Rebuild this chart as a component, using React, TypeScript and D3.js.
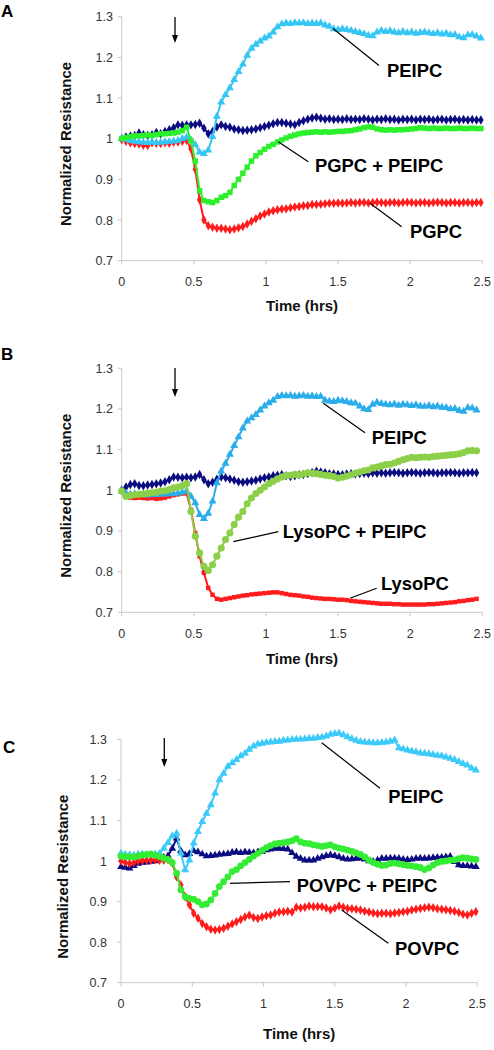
import React from "react";
import * as d3 from "d3";

// ---------- DATA ----------
const TIME_HRS = [
  0, 0.03, 0.06, 0.09, 0.12, 0.15, 0.18, 0.21, 0.24, 0.27, 0.3, 0.33, 0.36, 0.39, 0.42, 0.45, 0.48, 0.51, 0.54, 0.57,
  0.6, 0.63, 0.66, 0.69, 0.72, 0.75, 0.78, 0.81, 0.84, 0.87, 0.9, 0.93, 0.96, 0.99, 1.02, 1.05, 1.08, 1.11, 1.14, 1.17,
  1.2, 1.23, 1.26, 1.29, 1.32, 1.35, 1.38, 1.41, 1.44, 1.47, 1.5, 1.53, 1.56, 1.59, 1.62, 1.65, 1.68, 1.71, 1.74, 1.77,
  1.8, 1.83, 1.86, 1.89, 1.92, 1.95, 1.98, 2.01, 2.04, 2.07, 2.1, 2.13, 2.16, 2.19, 2.22, 2.25, 2.28, 2.31, 2.34, 2.37,
  2.4, 2.43, 2.46, 2.49,
];

const X_TICKS = [0, 0.5, 1, 1.5, 2, 2.5];
const X_TICK_LABELS = ["0", "0.5", "1", "1.5", "2", "2.5"];
const Y_TICKS = [0.7, 0.8, 0.9, 1.0, 1.1, 1.2, 1.3];
const Y_TICK_LABELS = ["0.7", "0.8", "0.9", "1", "1.1", "1.2", "1.3"];

// Panel A
const A_CONTROL = [
  1.0, 1.004, 1.006, 1.008, 1.014, 1.01, 1.008, 1.01, 1.015, 1.012,
  1.018, 1.022, 1.027, 1.034, 1.033, 1.034, 1.034, 1.035, 1.038, 1.026,
  1.012, 1.018, 1.029, 1.034, 1.03, 1.028, 1.024, 1.022, 1.02, 1.021,
  1.022, 1.024, 1.027, 1.03, 1.033, 1.037, 1.04, 1.04, 1.038, 1.036,
  1.034, 1.04, 1.044, 1.048, 1.051, 1.053, 1.05, 1.048, 1.049, 1.047,
  1.048, 1.047, 1.049, 1.047, 1.048, 1.047, 1.049, 1.048, 1.046, 1.048,
  1.047, 1.049, 1.047, 1.048, 1.046, 1.048, 1.047, 1.048, 1.046, 1.048,
  1.047, 1.048, 1.046, 1.047, 1.048, 1.046, 1.047, 1.048, 1.046, 1.047,
  1.046, 1.047, 1.046, 1.046,
];
const A_PEIPC = [
  1.0, 0.998, 0.995, 0.993, 0.992, 0.991, 0.99, 0.992, 0.99, 0.991,
  0.992, 0.993, 0.994, 0.995, 1.0, 1.004, 0.997, 0.985, 0.967, 0.963,
  0.972, 1.005, 1.055, 1.09, 1.108, 1.125, 1.145, 1.165, 1.183, 1.205,
  1.222, 1.232, 1.24, 1.247, 1.252, 1.262, 1.275, 1.282, 1.284, 1.283,
  1.285, 1.284, 1.285, 1.283, 1.284, 1.283, 1.284, 1.279, 1.276, 1.27,
  1.268, 1.27, 1.268, 1.266, 1.263, 1.261, 1.258, 1.254, 1.253, 1.262,
  1.266, 1.263, 1.265, 1.262, 1.26, 1.263, 1.26, 1.262, 1.259, 1.261,
  1.262, 1.26, 1.258, 1.26, 1.257, 1.259, 1.255, 1.256, 1.25, 1.248,
  1.255, 1.256, 1.252, 1.247,
];
const A_PGPC_PEIPC = [
  1.0, 1.003, 1.005, 1.007, 1.007, 1.008, 1.009, 1.008, 1.01, 1.012,
  1.012, 1.013, 1.014, 1.016, 1.02, 1.028, 0.995, 0.945, 0.872, 0.848,
  0.845, 0.843, 0.848, 0.856, 0.86, 0.868, 0.885, 0.9, 0.915, 0.93,
  0.945, 0.958, 0.966, 0.974, 0.981, 0.986, 0.992, 0.997, 1.002, 1.006,
  1.009, 1.012, 1.014, 1.015, 1.016, 1.017, 1.016, 1.017, 1.016, 1.017,
  1.018, 1.018, 1.019, 1.02, 1.022, 1.024, 1.027, 1.029, 1.028, 1.024,
  1.022, 1.021, 1.022, 1.021, 1.022, 1.022, 1.023, 1.024, 1.025, 1.027,
  1.026, 1.025, 1.026, 1.025, 1.025, 1.026, 1.025, 1.025, 1.026, 1.025,
  1.025, 1.026, 1.025, 1.025,
];
const A_PGPC = [
  0.998, 0.994, 0.99, 0.988, 0.987, 0.984, 0.983, 0.99, 0.989, 0.988,
  0.99, 0.989, 0.991, 0.992, 0.994, 0.996, 0.975, 0.925, 0.85, 0.8,
  0.786, 0.782, 0.78, 0.78, 0.778, 0.776, 0.778, 0.781, 0.784, 0.79,
  0.797, 0.803, 0.81, 0.815, 0.82, 0.823, 0.825, 0.827, 0.828, 0.83,
  0.832, 0.833, 0.835, 0.836, 0.838, 0.838, 0.839, 0.84, 0.841, 0.841,
  0.842, 0.841, 0.842, 0.843, 0.842, 0.843, 0.843, 0.842, 0.843, 0.844,
  0.843, 0.842, 0.843, 0.843, 0.842, 0.843, 0.844, 0.843, 0.842, 0.843,
  0.843, 0.842, 0.843, 0.844, 0.843, 0.842, 0.843, 0.843, 0.842, 0.843,
  0.843, 0.842, 0.843, 0.843,
];

// Panel B
const B_CONTROL = [
  1.0, 1.008, 1.014, 1.016, 1.012, 1.011, 1.013, 1.014, 1.016, 1.018,
  1.021, 1.026, 1.033, 1.032, 1.031, 1.032, 1.031, 1.033, 1.039, 1.026,
  1.016, 1.02, 1.027, 1.033, 1.031, 1.028, 1.025, 1.021, 1.02, 1.021,
  1.023, 1.025, 1.028, 1.031, 1.033, 1.036, 1.037, 1.039, 1.036, 1.034,
  1.036, 1.038, 1.039, 1.041, 1.044, 1.047, 1.045, 1.043, 1.041, 1.04,
  1.039, 1.038, 1.04, 1.041, 1.04, 1.041, 1.042, 1.041, 1.043, 1.042,
  1.043, 1.042, 1.043, 1.044, 1.043, 1.042, 1.043, 1.044, 1.043, 1.042,
  1.043, 1.044, 1.043, 1.042, 1.043, 1.043, 1.044, 1.043, 1.042, 1.043,
  1.043, 1.044, 1.043,
];
const B_PEIPC = [
  0.998, 0.993, 0.99, 0.991, 0.989, 0.99, 0.988, 0.99, 0.989, 0.991,
  0.99, 0.992, 0.991, 0.993, 0.995, 0.998, 0.985, 0.969, 0.94, 0.93,
  0.943, 0.973, 1.018, 1.047, 1.066, 1.088, 1.11, 1.131, 1.153, 1.17,
  1.178, 1.186, 1.197, 1.207, 1.215, 1.221, 1.23, 1.233, 1.232, 1.233,
  1.231, 1.232, 1.233, 1.231, 1.232, 1.23, 1.231, 1.221, 1.219, 1.218,
  1.221, 1.22, 1.218, 1.215, 1.214, 1.207, 1.2, 1.198, 1.211, 1.216,
  1.213, 1.211, 1.21, 1.212, 1.209, 1.211, 1.21, 1.208, 1.21, 1.207,
  1.206, 1.208, 1.205, 1.207, 1.204, 1.203, 1.2, 1.201, 1.196, 1.194,
  1.203, 1.202, 1.197,
];
const B_LYSOPC_PEIPC = [
  0.998, 0.985, 0.987, 0.989, 0.99, 0.991, 0.993, 0.994, 0.995, 0.998,
  0.999, 1.002, 1.006, 1.008, 1.011, 1.016, 0.948, 0.887, 0.846, 0.813,
  0.803, 0.817, 0.838, 0.858, 0.879, 0.895, 0.916, 0.934, 0.948, 0.967,
  0.981, 0.992, 1.0, 1.008, 1.016, 1.022, 1.028, 1.033, 1.036, 1.037,
  1.039, 1.038, 1.04, 1.043, 1.042, 1.041, 1.039, 1.037, 1.036, 1.034,
  1.03, 1.032, 1.035, 1.038, 1.042, 1.045, 1.048, 1.05, 1.055, 1.057,
  1.06, 1.063, 1.064, 1.067, 1.071, 1.075, 1.078, 1.081, 1.08, 1.081,
  1.082, 1.081, 1.083, 1.084, 1.085, 1.086, 1.087, 1.088, 1.09, 1.093,
  1.097, 1.098, 1.097,
];
const B_LYSOPC = [
  0.998, 0.984, 0.982, 0.981, 0.982, 0.981, 0.98, 0.981, 0.979, 0.98,
  0.982, 0.985, 0.988, 0.99, 0.992, 0.992, 0.952, 0.895, 0.838, 0.797,
  0.76, 0.743, 0.733, 0.731, 0.733, 0.735, 0.737, 0.739, 0.741, 0.742,
  0.744, 0.745, 0.746, 0.747, 0.748, 0.749, 0.749, 0.747, 0.745, 0.743,
  0.742, 0.741, 0.739, 0.738, 0.736, 0.735, 0.734, 0.733, 0.733, 0.732,
  0.731, 0.731, 0.73, 0.728, 0.727, 0.726, 0.725, 0.724, 0.723, 0.722,
  0.721, 0.721, 0.721, 0.72, 0.72, 0.719, 0.719, 0.719, 0.719, 0.719,
  0.719, 0.72, 0.72, 0.721, 0.722, 0.723, 0.724, 0.725, 0.727, 0.728,
  0.73, 0.731, 0.733,
];

// Panel C
const C_CONTROL = [
  0.986, 0.984, 0.982, 0.988, 0.994, 0.996, 0.997, 0.999, 1.0, 1.004,
  1.009, 1.013, 1.031, 1.056, 1.025, 1.015, 1.018, 1.025, 1.022, 1.017,
  1.012, 1.013, 1.014, 1.016, 1.017, 1.018, 1.021, 1.022, 1.02, 1.022,
  1.021, 1.02, 1.022, 1.023, 1.027, 1.029, 1.031, 1.031, 1.03, 1.029,
  1.02, 1.011, 1.006, 1.002, 1.002, 1.002, 1.006, 1.01, 1.013, 1.015,
  1.013, 1.01, 1.006, 1.004, 1.005, 1.006, 1.007, 1.004, 1.0, 0.998,
  1.002, 1.006, 1.006, 1.007, 1.007, 1.006, 1.004, 1.003, 1.004, 1.006,
  1.007, 1.006, 1.007, 1.008, 1.009, 1.009, 1.01, 1.011, 0.998, 0.99,
  0.988, 0.988, 0.987, 0.986,
];
const C_PEIPC = [
  1.019, 1.016, 1.015, 1.014, 1.016, 1.017, 1.015, 1.016, 1.017, 1.018,
  1.031, 1.045, 1.062, 1.068, 1.019, 0.978, 1.002, 1.044, 1.072, 1.097,
  1.117, 1.138, 1.167, 1.2, 1.216, 1.233, 1.242, 1.25, 1.259, 1.265,
  1.275, 1.283, 1.288, 1.29, 1.292, 1.293, 1.294, 1.295, 1.297, 1.298,
  1.299, 1.3, 1.3, 1.301, 1.302, 1.302, 1.304, 1.305, 1.308, 1.312,
  1.314, 1.315, 1.311, 1.306, 1.301, 1.297, 1.294, 1.293, 1.292, 1.291,
  1.291, 1.292, 1.293, 1.295, 1.298, 1.279, 1.276, 1.273, 1.271, 1.269,
  1.266, 1.265, 1.264, 1.262, 1.26, 1.259, 1.256, 1.253, 1.25, 1.245,
  1.24, 1.236, 1.229, 1.224,
];
const C_POVPC_PEIPC = [
  1.012, 1.011, 1.01, 1.01, 1.012, 1.015, 1.016, 1.017, 1.014, 1.011,
  1.007, 1.004, 0.996, 0.97, 0.929, 0.912, 0.908, 0.906, 0.9, 0.892,
  0.894, 0.904, 0.92, 0.937, 0.949, 0.961, 0.974, 0.979, 0.988, 0.996,
  1.004, 1.012, 1.019, 1.026, 1.033, 1.038, 1.042, 1.044, 1.045, 1.047,
  1.05, 1.055, 1.047, 1.044, 1.043, 1.04, 1.038, 1.036, 1.038, 1.04,
  1.035, 1.032, 1.03, 1.027, 1.024, 1.02, 1.016, 1.01, 1.002, 0.996,
  0.992, 0.989, 0.99, 0.994, 0.995, 0.993, 0.991, 0.989, 0.988, 0.986,
  0.984, 0.979, 0.983, 0.99, 0.996, 0.999, 1.0, 1.002, 1.003, 1.006,
  1.008, 1.007, 1.005, 1.004,
];
const C_POVPC = [
  1.0, 0.996, 0.994, 0.996, 1.0, 1.001, 1.002, 1.002, 1.003, 1.002,
  1.002, 1.003, 0.995, 0.961, 0.941, 0.912, 0.892, 0.871, 0.859, 0.846,
  0.838, 0.832, 0.83, 0.831, 0.834, 0.839, 0.845, 0.85, 0.856, 0.862,
  0.866, 0.861, 0.858, 0.862, 0.865, 0.867, 0.871, 0.874, 0.875, 0.876,
  0.874, 0.886, 0.884, 0.886, 0.889, 0.887, 0.888, 0.887, 0.884, 0.88,
  0.884, 0.889, 0.886, 0.883, 0.882, 0.881, 0.879, 0.876, 0.874, 0.872,
  0.87, 0.871, 0.871, 0.87, 0.872, 0.873, 0.875, 0.876, 0.879, 0.881,
  0.883, 0.885, 0.886, 0.885, 0.882, 0.881, 0.88, 0.878, 0.876, 0.873,
  0.869, 0.867, 0.871, 0.875,
];

// ---------- STYLE / LAYOUT ----------
const FONT = "'Liberation Sans', Arial, Helvetica, sans-serif";
const NAVY = "#0c0c82";
const RED = "#ff1c1c";

type SymbolKind = "diamond" | "triangle" | "square" | "circle";
const SYMBOLS: Record<SymbolKind, d3.SymbolType> = {
  diamond: d3.symbolDiamond,
  triangle: d3.symbolTriangle,
  square: d3.symbolSquare,
  circle: d3.symbolCircle,
};

interface SeriesSpec {
  values: number[];
  color: string;
  symbol: SymbolKind;
  size: number;
}
interface Annotation {
  text: string;
  tx: number;
  ty: number;
  line: [number, number, number, number];
}
interface PanelSpec {
  letter: string;
  letterX: number;
  letterY: number;
  x0: number;
  x1: number;
  yTop: number;
  yBottom: number;
  yTickLabelX: number;
  xTickLabelY: number;
  xTitleY: number;
  yTitleX: number;
  yTitleCenter: number;
  arrowX: number;
  arrowY0: number;
  arrowY1: number;
  series: SeriesSpec[];
  notes: Annotation[];
}

const PANELS: PanelSpec[] = [
  {
    letter: "A", letterX: 1, letterY: 16.5,
    x0: 121.7, x1: 482.3, yTop: 16.7, yBottom: 260.7,
    yTickLabelX: 113, xTickLabelY: 286, xTitleY: 311, yTitleX: 71, yTitleCenter: 144,
    arrowX: 175, arrowY0: 17, arrowY1: 43,
    series: [
      { values: A_CONTROL, color: NAVY, symbol: "diamond", size: 26 },
      { values: A_PGPC, color: RED, symbol: "diamond", size: 26 },
      { values: A_PEIPC, color: "#36c6f4", symbol: "triangle", size: 28 },
      { values: A_PGPC_PEIPC, color: "#2cf02c", symbol: "square", size: 30 },
    ],
    notes: [
      { text: "PEIPC", tx: 387, ty: 77, line: [333, 28.5, 379, 65.5] },
      { text: "PGPC + PEIPC", tx: 315, ty: 171.7, line: [278.3, 141.7, 308.3, 161.7] },
      { text: "PGPC", tx: 410, ty: 238.3, line: [370, 203.3, 401.7, 226.7] },
    ],
  },
  {
    letter: "B", letterX: 1, letterY: 360,
    x0: 121.7, x1: 482.3, yTop: 368.3, yBottom: 612.3,
    yTickLabelX: 113, xTickLabelY: 638, xTitleY: 664, yTitleX: 71, yTitleCenter: 495.7,
    arrowX: 175, arrowY0: 368, arrowY1: 397,
    series: [
      { values: B_CONTROL, color: NAVY, symbol: "diamond", size: 26 },
      { values: B_LYSOPC, color: RED, symbol: "square", size: 20 },
      { values: B_PEIPC, color: "#2badea", symbol: "triangle", size: 28 },
      { values: B_LYSOPC_PEIPC, color: "#8ccf48", symbol: "circle", size: 40 },
    ],
    notes: [
      { text: "PEIPC", tx: 371.7, ty: 444, line: [323.3, 403.3, 365, 432.7] },
      { text: "LysoPC + PEIPC", tx: 282.7, ty: 538.3, line: [233.3, 541.7, 278.3, 531.7] },
      { text: "LysoPC", tx: 381, ty: 590, line: [350, 598.3, 376.7, 588.3] },
    ],
  },
  {
    letter: "C", letterX: 3, letterY: 753,
    x0: 121, x1: 477.3, yTop: 739.3, yBottom: 982.7,
    yTickLabelX: 107, xTickLabelY: 1008, xTitleY: 1039, yTitleX: 68, yTitleCenter: 876.7,
    arrowX: 164.3, arrowY0: 738, arrowY1: 767,
    series: [
      { values: C_CONTROL, color: NAVY, symbol: "triangle", size: 26 },
      { values: C_POVPC, color: RED, symbol: "diamond", size: 26 },
      { values: C_PEIPC, color: "#3ccaf8", symbol: "triangle", size: 28 },
      { values: C_POVPC_PEIPC, color: "#35ec35", symbol: "circle", size: 36 },
    ],
    notes: [
      { text: "PEIPC", tx: 388.3, ty: 802.7, line: [321.7, 742.7, 380, 788.3] },
      { text: "POVPC + PEIPC", tx: 296.7, ty: 891.7, line: [230, 883.3, 290, 881.7] },
      { text: "POVPC", tx: 395, ty: 955, line: [341.7, 910, 388.3, 943.3] },
    ],
  },
];

function Panel({ p }: { p: PanelSpec }) {
  const x = d3.scaleLinear().domain([0, 2.5]).range([p.x0, p.x1]);
  const y = d3.scaleLinear().domain([0.7, 1.3]).range([p.yBottom, p.yTop]);
  const axisColor = "#c9c9c9";

  return (
    <g>
      {/* axes */}
      <line x1={p.x0} x2={p.x0} y1={p.yTop} y2={p.yBottom} stroke={axisColor} strokeWidth={1} />
      <line x1={p.x0} x2={p.x1} y1={p.yBottom} y2={p.yBottom} stroke={axisColor} strokeWidth={1} />
      {Y_TICKS.map((t, i) => (
        <g key={"yt" + i}>
          <line x1={p.x0 - 4} x2={p.x0} y1={y(t)} y2={y(t)} stroke={axisColor} strokeWidth={1} />
          <text x={p.yTickLabelX} y={y(t)} dy="0.36em" textAnchor="end" fontSize={12.5} fill="#333" fontFamily={FONT}>
            {Y_TICK_LABELS[i]}
          </text>
        </g>
      ))}
      {X_TICKS.map((t, i) => (
        <g key={"xt" + i}>
          <line x1={x(t)} x2={x(t)} y1={p.yBottom} y2={p.yBottom + 4} stroke={axisColor} strokeWidth={1} />
          <text x={x(t)} y={p.xTickLabelY} textAnchor="middle" fontSize={12.5} fill="#333" fontFamily={FONT}>
            {X_TICK_LABELS[i]}
          </text>
        </g>
      ))}
      <text x={(p.x0 + p.x1) / 2} y={p.xTitleY} textAnchor="middle" fontSize={15} fontWeight="bold" fill="#111" fontFamily={FONT}>
        Time (hrs)
      </text>
      <text
        transform={`translate(${p.yTitleX},${p.yTitleCenter}) rotate(-90)`}
        textAnchor="middle" fontSize={15} fontWeight="bold" fill="#111" fontFamily={FONT}
      >
        Normalized Resistance
      </text>
      <text x={p.letterX} y={p.letterY} fontSize={17} fontWeight="bold" fill="#000" fontFamily={FONT}>
        {p.letter}
      </text>

      {/* addition arrow */}
      <line x1={p.arrowX} x2={p.arrowX} y1={p.arrowY0} y2={p.arrowY1 - 6} stroke="#000" strokeWidth={1.3} />
      <path
        d={`M${p.arrowX - 3},${p.arrowY1 - 8} L${p.arrowX + 3},${p.arrowY1 - 8} L${p.arrowX},${p.arrowY1} Z`}
        fill="#000"
      />

      {/* series */}
      {p.series.map((s, si) => {
        const line = d3
          .line<number>()
          .x((_, i) => x(TIME_HRS[i]))
          .y((d) => y(d));
        const sym = d3.symbol().type(SYMBOLS[s.symbol]).size(s.size)() as string;
        return (
          <g key={"s" + si}>
            <path d={line(s.values) as string} fill="none" stroke={s.color} strokeWidth={2} />
            {s.values.map((v, i) => (
              <path key={i} d={sym} transform={`translate(${x(TIME_HRS[i])},${y(v)})`} fill={s.color} />
            ))}
          </g>
        );
      })}

      {/* annotations */}
      {p.notes.map((n, ni) => (
        <g key={"n" + ni}>
          <line x1={n.line[0]} y1={n.line[1]} x2={n.line[2]} y2={n.line[3]} stroke="#000" strokeWidth={1.2} />
          <text x={n.tx} y={n.ty} fontSize={18.4} fontWeight="bold" fill="#000" fontFamily={FONT}>
            {n.text}
          </text>
        </g>
      ))}
    </g>
  );
}

export default function App() {
  return (
    <svg
      width={494}
      height={1050}
      viewBox="0 0 494 1050"
      style={{ position: "absolute", left: 0, top: 0, background: "#fff" }}
    >
      <rect x={0} y={0} width={494} height={1050} fill="#fff" />
      {PANELS.map((p) => (
        <Panel key={p.letter} p={p} />
      ))}
    </svg>
  );
}
